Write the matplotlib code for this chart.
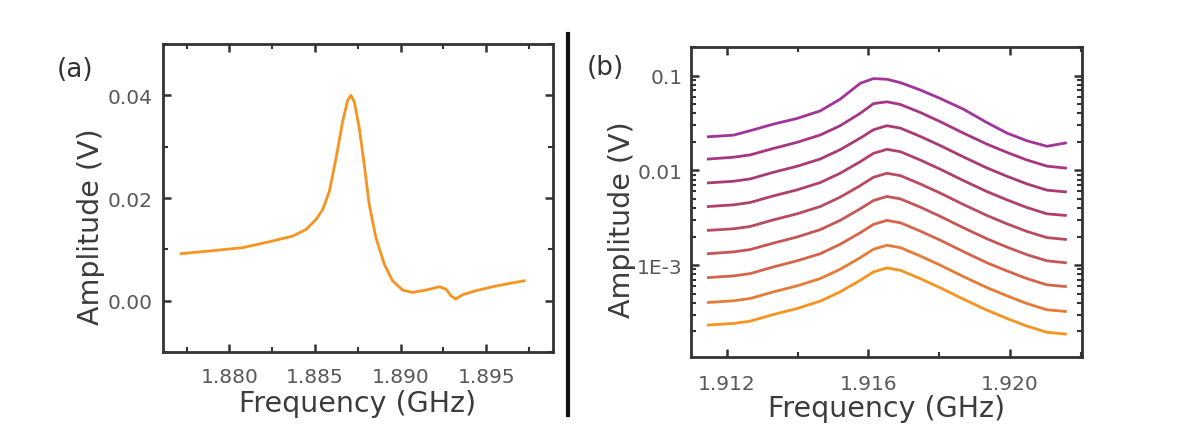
import numpy as np
import matplotlib.pyplot as plt
from matplotlib.lines import Line2D
from matplotlib.ticker import MultipleLocator, FixedLocator, FixedFormatter, LogLocator, NullFormatter

plt.rcParams['font.family'] = ['DejaVu Sans']

# (a) single resonance, linear amplitude
freq_a = [1.87718, 1.87883, 1.88078, 1.88233, 1.88370, 1.88448, 1.88506, 1.88545,
          1.88584, 1.88623, 1.88661, 1.88691, 1.88710, 1.88730, 1.88759, 1.88788,
          1.88817, 1.88856, 1.88905, 1.88953, 1.89012, 1.89070, 1.89148, 1.89226,
          1.89265, 1.89294, 1.89323, 1.89362, 1.89440, 1.89537, 1.89634, 1.89722]
amp_a = [0.00916, 0.00968, 0.01032, 0.01148, 0.01258, 0.01387, 0.01581, 0.01774,
         0.02129, 0.02774, 0.03484, 0.03903, 0.04000, 0.03871, 0.03355, 0.02645,
         0.01871, 0.01226, 0.00710, 0.00387, 0.00206, 0.00161, 0.00206, 0.00271,
         0.00226, 0.00097, 0.00032, 0.00116, 0.00194, 0.00271, 0.00335, 0.00387]

# (b) power series, log amplitude (top to bottom)
freq_b = [1.91148, 1.91219, 1.91266, 1.91332, 1.91398, 1.91464, 1.91520, 1.91577,
          1.91614, 1.91652, 1.91690, 1.91746, 1.91803, 1.91868, 1.91934, 1.91991,
          1.92047, 1.92104, 1.92156]
amp_b1 = [0.0227, 0.0236, 0.0263, 0.0309, 0.0354, 0.0426, 0.0566, 0.0834, 0.0934,
          0.0919, 0.0847, 0.0709, 0.0575, 0.0444, 0.0321, 0.0248, 0.0206, 0.0180, 0.0195]
amp_b2 = [0.0132, 0.0138, 0.0146, 0.0171, 0.0198, 0.0237, 0.0297, 0.0402, 0.0508,
          0.0531, 0.0498, 0.0410, 0.0327, 0.0248, 0.0190, 0.0155, 0.0129, 0.0111, 0.0106]
amp_b3 = [0.00739, 0.00769, 0.00814, 0.00957, 0.01106, 0.01322, 0.01658, 0.0220, 0.0269,
          0.0297, 0.0280, 0.0229, 0.0183, 0.0139, 0.01063, 0.00868, 0.00721, 0.00619, 0.00594]
amp_b4 = [0.00416, 0.00433, 0.00459, 0.00539, 0.00623, 0.00745, 0.00934, 0.01239, 0.01516,
          0.01671, 0.01579, 0.01290, 0.01029, 0.00782, 0.00599, 0.00489, 0.00406, 0.00348, 0.00335]
amp_b5 = [0.00233, 0.00242, 0.00256, 0.00301, 0.00348, 0.00416, 0.00522, 0.00692, 0.00847,
          0.00934, 0.00882, 0.00721, 0.00575, 0.00437, 0.00335, 0.00273, 0.00227, 0.00195, 0.00187]
amp_b6 = [0.00132, 0.00138, 0.00146, 0.00171, 0.00198, 0.00237, 0.00297, 0.00394, 0.00481,
          0.00531, 0.00501, 0.00410, 0.00327, 0.00248, 0.00190, 0.00155, 0.00129, 0.00111, 0.00106]
amp_b7 = [0.000739, 0.000769, 0.000814, 0.000957, 0.00111, 0.00132, 0.00166, 0.00220, 0.00269,
          0.00297, 0.00280, 0.00229, 0.00183, 0.00139, 0.00106, 0.000868, 0.000721, 0.000619, 0.000594]
amp_b8 = [0.000403, 0.000420, 0.000444, 0.000522, 0.000603, 0.000721, 0.000904, 0.00120, 0.00147,
          0.00162, 0.00153, 0.00125, 0.000996, 0.000757, 0.000580, 0.000474, 0.000393, 0.000337, 0.000324]
amp_b9 = [0.000233, 0.000242, 0.000256, 0.000301, 0.000348, 0.000416, 0.000522, 0.000692, 0.000847,
          0.000934, 0.000882, 0.000721, 0.000575, 0.000437, 0.000335, 0.000273, 0.000227, 0.000195, 0.000187]
amps_b = [amp_b1, amp_b2, amp_b3, amp_b4, amp_b5, amp_b6, amp_b7, amp_b8, amp_b9]
colors_b = ['#a2339a', '#a63684', '#aa3a74', '#b0406a', '#b94a60', '#c55656', '#d6644a', '#e77a36', '#f7931e']

a_xticks = [1.880, 1.885, 1.890, 1.895]
a_xticklabels = ['1.880', '1.885', '1.890', '1.895']
a_yticks = [0.00, 0.02, 0.04]
a_yticklabels = ['0.00', '0.02', '0.04']
b_xticks = [1.912, 1.916, 1.920]
b_xticklabels = ['1.912', '1.916', '1.920']
b_yticks = [1e-3, 1e-2, 1e-1]
b_yticklabels = ['1E-3', '0.01', '0.1']

tick_color = '#585858'
label_color = '#3c3c3c'
spine_color = '#333333'

fig = plt.figure(figsize=(12.03, 4.27), dpi=100)


def style_axes(ax):
    for s in ax.spines.values():
        s.set_linewidth(2.0)
        s.set_color(spine_color)
    ax.tick_params(which='both', direction='in', top=True, right=True,
                   color=spine_color, labelcolor=tick_color, labelsize=14.5)
    ax.tick_params(which='major', length=6, width=1.8)
    ax.tick_params(which='minor', length=3.5, width=1.5)


# (a)
ax1 = fig.add_axes([0.1352, 0.1733, 0.3244, 0.7213])
ax1.plot(freq_a, amp_a, color='#f7931e', lw=2)
ax1.set_xlim(1.8761, 1.8989)
ax1.set_ylim(-0.01, 0.05)
ax1.xaxis.set_major_locator(FixedLocator(a_xticks))
ax1.xaxis.set_major_formatter(FixedFormatter(a_xticklabels))
ax1.xaxis.set_minor_locator(MultipleLocator(0.0025))
ax1.yaxis.set_major_locator(FixedLocator(a_yticks))
ax1.yaxis.set_major_formatter(FixedFormatter(a_yticklabels))
ax1.yaxis.set_minor_locator(MultipleLocator(0.01))
style_axes(ax1)
ax1.tick_params(axis='x', pad=11)
ax1.tick_params(axis='y', pad=7)
ax1.set_xlabel('Frequency (GHz)', fontsize=20.5, color=label_color)
ax1.set_ylabel('Amplitude (V)', fontsize=20.5, color=label_color)
ax1.xaxis.set_label_coords(0.5, -0.12)
ax1.yaxis.set_label_coords(-0.147, 0.41)

# (b)
ax2 = fig.add_axes([0.5744, 0.1616, 0.3248, 0.7253])
for amp, c in zip(amps_b, colors_b):
    ax2.plot(freq_b, amp, color=c, lw=2)
ax2.set_yscale('log')
ax2.set_xlim(1.91099, 1.92202)
ax2.set_ylim(1.07e-4, 0.2)
ax2.xaxis.set_major_locator(FixedLocator(b_xticks))
ax2.xaxis.set_major_formatter(FixedFormatter(b_xticklabels))
ax2.xaxis.set_minor_locator(MultipleLocator(0.002))
ax2.yaxis.set_major_locator(FixedLocator(b_yticks))
ax2.yaxis.set_major_formatter(FixedFormatter(b_yticklabels))
ax2.yaxis.set_minor_locator(LogLocator(base=10, subs=np.arange(2, 10)))
ax2.yaxis.set_minor_formatter(NullFormatter())
style_axes(ax2)
ax2.tick_params(axis='x', pad=12)
ax2.tick_params(axis='y', pad=6)
ax2.set_xlabel('Frequency (GHz)', fontsize=20.5, color=label_color)
ax2.set_ylabel('Amplitude (V)', fontsize=20.5, color=label_color)
ax2.xaxis.set_label_coords(0.5, -0.12)
ax2.yaxis.set_label_coords(-0.142, 0.446)

# panel letters and divider
fig.text(75 / 1203, 1 - 70 / 427, '(a)', fontsize=19, color='#333333', ha='center', va='center')
fig.text(605 / 1203, 1 - 68 / 427, '(b)', fontsize=19, color='#333333', ha='center', va='center')
fig.add_artist(Line2D([568 / 1203, 568 / 1203], [1 - 416 / 427, 1 - 35 / 427],
                      transform=fig.transFigure, color='#111111', lw=3))

fig.savefig('out.png', dpi=100)
